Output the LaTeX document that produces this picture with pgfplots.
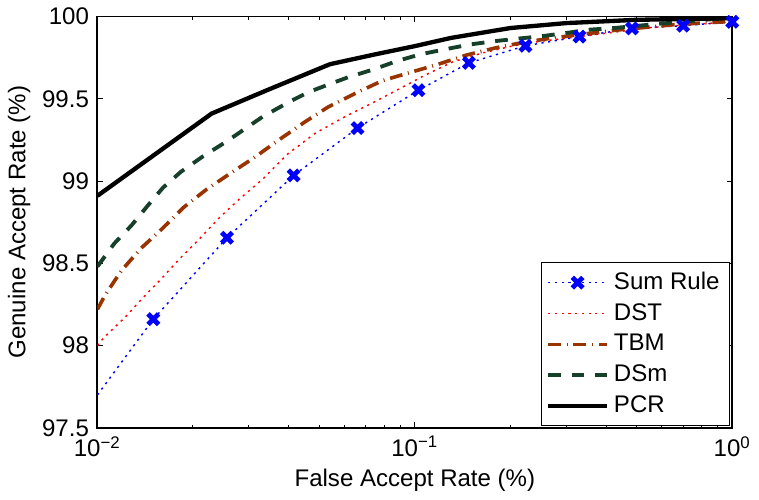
\documentclass[border=0pt]{standalone}
\usepackage{fontspec}
\setmainfont{Liberation Sans}
\usepackage{pgfplots}
\pgfplotsset{compat=1.18}
\definecolor{tbmbrown}{RGB}{153,51,0}
\definecolor{dsmgreen}{RGB}{23,64,43}

\begin{document}
\begin{tikzpicture}
\begin{axis}[
  scale only axis, width=264pt, height=171pt,
  xmode=log, xmin=0.01, xmax=1, ymin=97.5, ymax=100,
  xtick={0.01,0.1,1},
  xticklabels={10\textsuperscript{−2},10\textsuperscript{−1},10\textsuperscript{0}},
  minor xtick={0.02,0.03,0.04,0.05,0.06,0.07,0.08,0.09,0.2,0.3,0.4,0.5,0.6,0.7,0.8,0.9},
  ytick={97.5,98,98.5,99,99.5,100},
  /pgf/number format/assume math mode=true,
  tick align=inside,
  major tick length=2.2pt, minor tick length=1.3pt,
  tick style={black, line width=0.4pt},
  axis line style={line width=0.8pt},
  xlabel={False Accept Rate (\%)},
  ylabel={Genuine Accept Rate (\%)},
  xlabel style={yshift=2pt},
  ylabel style={yshift=-2pt},
  legend style={at={(0.996,0.004)}, anchor=south east, draw=black,
    line width=0.5pt, font=\normalsize, row sep=0.3pt, inner xsep=2pt,
    inner ysep=2pt},
  legend cell align=left,
  legend image code/.code={\draw[#1, mark indices={2}]
    plot coordinates {(0cm,0cm) (0.43cm,0cm) (0.86cm,0cm)};},
]
% Sum Rule
\addplot[blue, line width=0.6pt, dash pattern=on 0.9pt off 1.9pt,
  mark=x, mark indices={2,...,12}, mark size=3.1pt,
  mark options={solid, line width=2pt}] coordinates {
  (0.01,97.70) (0.015,98.16) (0.0256,98.655) (0.0415,99.034) (0.066,99.322)
  (0.1026,99.552) (0.148,99.718) (0.223,99.822) (0.33,99.878) (0.483,99.928)
  (0.70,99.944) (1.0,99.968)};
% DST
\addplot[red, line width=0.6pt, dash pattern=on 0.9pt off 1.9pt] coordinates {
  (0.01,98.00) (0.0105,98.05) (0.0122,98.17) (0.0139,98.29) (0.0158,98.40)
  (0.0182,98.53) (0.021,98.65) (0.0243,98.78) (0.028,98.89) (0.0331,99.01)
  (0.0395,99.16) (0.0485,99.29) (0.0601,99.39) (0.0762,99.49) (0.0945,99.585)
  (0.108,99.645) (0.132,99.725) (0.163,99.778) (0.2,99.818) (0.245,99.848)
  (0.372,99.89) (0.545,99.932) (0.70,99.948) (1.0,99.968)};
% TBM
\addplot[tbmbrown, line width=1.5pt,
  dash pattern=on 5.3pt off 2.4pt on 0.4pt off 2.4pt] coordinates {
  (0.01,98.22) (0.0106,98.31) (0.0119,98.455) (0.0137,98.59) (0.016,98.71)
  (0.0187,98.84) (0.0221,98.95) (0.0264,99.05) (0.0316,99.15) (0.0373,99.25)
  (0.0451,99.36) (0.0533,99.45) (0.0645,99.53) (0.079,99.61) (0.0967,99.66)
  (0.1185,99.71) (0.145,99.765) (0.18,99.81) (0.223,99.845) (0.273,99.87)
  (0.33,99.89) (0.42,99.915) (0.65,99.95) (0.79,99.96) (1.0,99.97)};
% DSm
\addplot[dsmgreen, line width=1.6pt, dash pattern=on 5.3pt off 4.5pt] coordinates {
  (0.01,98.48) (0.0113,98.62) (0.0128,98.73) (0.0144,98.85) (0.0161,98.96)
  (0.0183,99.055) (0.0215,99.15) (0.0255,99.24) (0.0331,99.39) (0.0401,99.48)
  (0.0462,99.54) (0.054,99.59) (0.0615,99.63) (0.0745,99.68) (0.088,99.73)
  (0.104,99.77) (0.124,99.80) (0.149,99.83) (0.178,99.85) (0.21,99.865)
  (0.25,99.88) (0.3,99.90) (0.355,99.92) (0.424,99.93) (0.513,99.945)
  (0.607,99.958) (0.725,99.972) (0.867,99.984) (1.0,99.99)};
% PCR
\addplot[black, line width=1.8pt] coordinates {
  (0.01,98.91) (0.0229,99.41) (0.035,99.56) (0.054,99.71) (0.075,99.77)
  (0.1,99.82) (0.13,99.87) (0.2,99.93) (0.3,99.96) (0.5,99.98) (1.0,99.99)};
\legend{Sum Rule, DST, TBM, DSm, PCR}
\end{axis}
\end{tikzpicture}
\end{document}
